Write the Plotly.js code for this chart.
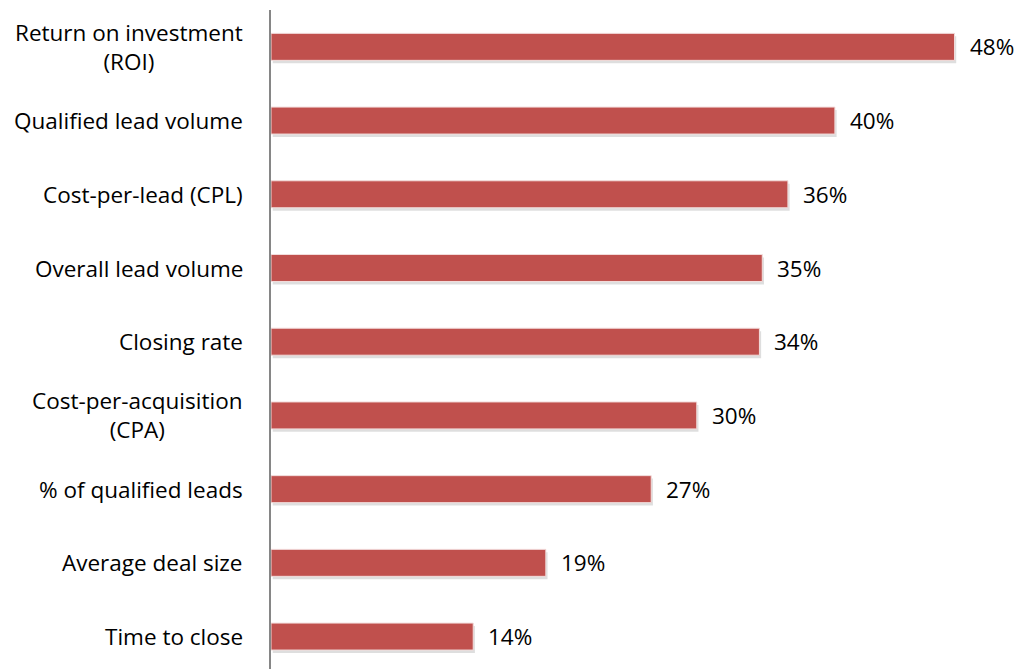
<!DOCTYPE html>
<html><head><meta charset="utf-8">
<script src="https://cdn.plot.ly/plotly-3.0.1.min.js"></script>
<style>html,body{margin:0;padding:0;background:#fff;overflow:hidden}</style>
</head><body><div id="chart" style="width:1021px;height:669px"></div>
<script>
const categories = ["Return on investment<br>(ROI)", "Qualified lead volume", "Cost-per-lead (CPL)", "Overall lead volume", "Closing rate", "Cost-per-acquisition<br>(CPA)", "% of qualified leads", "Average deal size", "Time to close"];
const values = [48.0, 39.6, 36.3, 34.5, 34.3, 29.9, 26.7, 19.3, 14.2];
const valueLabels = ["48%", "40%", "36%", "35%", "34%", "30%", "27%", "19%", "14%"];

const idx = categories.map((c, i) => i);
const FONT = "Open Sans, sans-serif";

const shadow = {
  type: 'bar', orientation: 'h', x: values, y: idx, base: 0.12,
  width: 0.366, offset: -0.183 + 0.04,
  marker: {color: 'rgba(0,0,0,0.13)'}, hoverinfo: 'skip'
};
const bars = {
  type: 'bar', orientation: 'h', x: values, y: idx,
  width: 0.366, offset: -0.183,
  marker: {color: '#C0504D', line: {color: '#F2DCDB', width: 1}}
};

const annotations = [];
categories.forEach((c, i) => {
  annotations.push({x: 0, y: i, xref: 'x', yref: 'y', text: c, showarrow: false,
    xanchor: 'right', yanchor: 'middle', align: 'center', xshift: -26,
    font: {family: FONT, size: 22.5, color: '#000'}});
  annotations.push({x: values[i], y: i, xref: 'x', yref: 'y', text: valueLabels[i], showarrow: false,
    xanchor: 'left', yanchor: 'middle', xshift: 13,
    font: {family: FONT, size: 22.5, color: '#000'}});
});

Plotly.newPlot('chart', [shadow, bars], {
  width: 1021, height: 669,
  margin: {l: 271, r: 37.5, t: 10, b: 0},
  barmode: 'overlay', showlegend: false,
  paper_bgcolor: '#fff', plot_bgcolor: '#fff',
  xaxis: {range: [0, 50], showgrid: false, zeroline: false, showticklabels: false, showline: false, ticks: ''},
  yaxis: {range: [8.44, -0.5], showgrid: false, zeroline: false, showticklabels: false,
    showline: true, linecolor: '#868686', linewidth: 2, ticks: ''},
  annotations: annotations
}, {displayModeBar: false, staticPlot: true});
</script></body></html>
